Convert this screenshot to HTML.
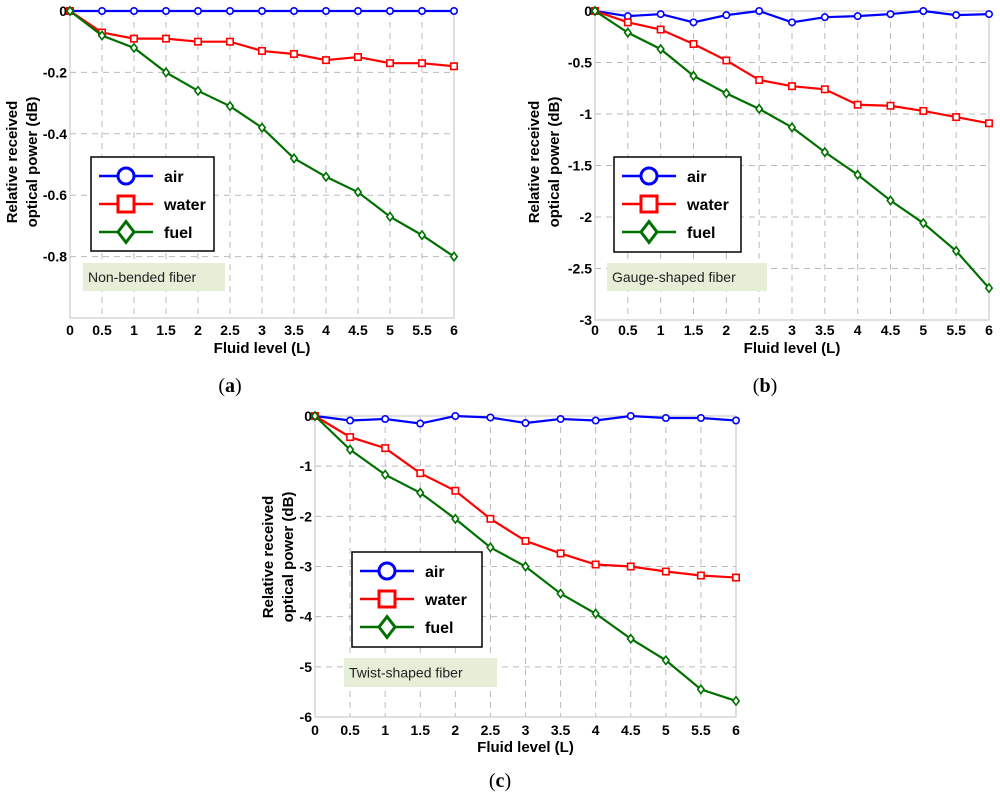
<!DOCTYPE html>
<html><head><meta charset="utf-8"><style>
html,body{margin:0;padding:0;background:#fff;width:1000px;height:801px;overflow:hidden}
svg{display:block}
text{font-family:"Liberation Sans",Arial,sans-serif}
text.cap{font-family:"Liberation Serif",serif}
</style></head><body>
<svg id="fig" width="1000" height="801" viewBox="0 0 1000 801"></svg>
<script>
const xLevels=[0,0.5,1,1.5,2,2.5,3,3.5,4,4.5,5,5.5,6];
const xTickLabels=["0","0.5","1","1.5","2","2.5","3","3.5","4","4.5","5","5.5","6"];
const airA=[0,0,0,0,0,0,0,0,0,0,0,0,0];
const waterA=[0,-0.07,-0.09,-0.09,-0.10,-0.10,-0.13,-0.14,-0.16,-0.15,-0.17,-0.17,-0.18];
const fuelA=[0,-0.08,-0.12,-0.20,-0.26,-0.31,-0.38,-0.48,-0.54,-0.59,-0.67,-0.73,-0.80];
const yTicksA=[0,-0.2,-0.4,-0.6,-0.8];
const yLabelsA=["0","-0.2","-0.4","-0.6","-0.8"];
const airB=[0,-0.05,-0.03,-0.11,-0.04,0,-0.11,-0.06,-0.05,-0.03,0,-0.04,-0.03];
const waterB=[0,-0.11,-0.18,-0.32,-0.48,-0.67,-0.73,-0.76,-0.91,-0.92,-0.97,-1.03,-1.09];
const fuelB=[0,-0.21,-0.37,-0.63,-0.80,-0.95,-1.13,-1.37,-1.59,-1.84,-2.06,-2.33,-2.69];
const yTicksB=[0,-0.5,-1,-1.5,-2,-2.5,-3];
const yLabelsB=["0","-0.5","-1","-1.5","-2","-2.5","-3"];
const airC=[0,-0.09,-0.06,-0.15,0,-0.03,-0.14,-0.06,-0.09,0,-0.04,-0.04,-0.09];
const waterC=[0,-0.42,-0.64,-1.14,-1.49,-2.05,-2.49,-2.74,-2.96,-3.0,-3.1,-3.18,-3.22];
const fuelC=[0,-0.67,-1.17,-1.53,-2.05,-2.62,-3.0,-3.54,-3.94,-4.44,-4.87,-5.45,-5.68];
const yTicksC=[0,-1,-2,-3,-4,-5,-6];
const yLabelsC=["0","-1","-2","-3","-4","-5","-6"];
const seriesNames=["air","water","fuel"];

const NS="http://www.w3.org/2000/svg";
const svg=document.getElementById('fig');
function mk(tag,attrs,parent){const e=document.createElementNS(NS,tag);for(const k in attrs)e.setAttribute(k,attrs[k]);(parent||svg).appendChild(e);return e;}
const colors={air:"#0000ff",water:"#ff0000",fuel:"#007000"};
function marker(g,kind,x,y,r){
  let m;
  if(kind==="air")m=mk('circle',{cx:x,cy:y,r:r,fill:"#fff",stroke:colors.air,"stroke-width":r>5?3:1.6},g);
  else if(kind==="water")m=mk('rect',{x:x-r,y:y-r,width:2*r,height:2*r,fill:"#fff",stroke:colors.water,"stroke-width":r>5?3:1.6},g);
  else m=mk('polygon',{points:`${x},${y-r*1.3} ${x+r},${y} ${x},${y+r*1.3} ${x-r},${y}`,fill:"#fff",stroke:colors.fuel,"stroke-width":r>5?3:1.6},g);
  return m;
}
function panel(id,P,yMin,yTicks,yLabels,data,leg,lab,labelText,titleX,titleY,xlabY,flY){
  const g=mk('g',{});
  
  
  const sx=v=>P.l+(v-0)/(6-0)*(P.r-P.l);
  const sy=v=>P.t+(0-v)/(0-yMin)*(P.b-P.t);
  xLevels.forEach((v,i)=>{if(i>0&&i<12){const gl=mk('line',{x1:sx(v),x2:sx(v),y1:P.t,y2:P.b,stroke:"#bbb","stroke-dasharray":"6,5","stroke-width":1},g);}});
  yTicks.forEach((v,i)=>{if(i>0&&v>yMin){const gl=mk('line',{x1:P.l,x2:P.r,y1:sy(v),y2:sy(v),stroke:"#bbb","stroke-dasharray":"6,5","stroke-width":1},g);}});
  const fr=mk('rect',{x:P.l,y:P.t,width:P.r-P.l,height:P.b-P.t,fill:"none",stroke:"#ccc","stroke-width":1.2},g);
  
  xLevels.forEach((v,i)=>{const t=mk('text',{x:sx(v),y:xlabY,"text-anchor":"middle","font-size":"14","font-weight":"bold"},g);t.textContent=xTickLabels[i];});
  yTicks.forEach((v,i)=>{const t=mk('text',{x:P.l-3,y:sy(v)+5,"text-anchor":"end","font-size":"14","font-weight":"bold"},g);t.textContent=yLabels[i];});
  const xt=mk('text',{x:(P.l+P.r)/2,y:flY,"text-anchor":"middle","font-size":"15","font-weight":"bold"},g);xt.textContent="Fluid level (L)";
  
  const yt=mk('text',{transform:`translate(${titleX},${titleY}) rotate(-90)`,"text-anchor":"middle","font-size":"15","font-weight":"bold"},g);
  
  const t1=mk('tspan',{x:0,y:0},yt);t1.textContent="Relative received";
  const t2=mk('tspan',{x:0,y:20},yt);t2.textContent="optical power (dB)";
  seriesNames.forEach((nm,si)=>{
    const vals=data[si];
    const pl=mk('polyline',{points:vals.map((v,i)=>sx(xLevels[i])+","+sy(v)).join(" "),fill:"none",stroke:colors[nm],"stroke-width":2.2},g);
    
    vals.forEach((v,i)=>{const m=marker(g,nm,sx(xLevels[i]),sy(v),3.2);});
  });
  const lb=mk('rect',{x:lab[0],y:lab[1],width:lab[2],height:lab[3],fill:"#e6eed8"},g);
  
  const lt=mk('text',{x:lab[0]+5,y:lab[1]+lab[3]/2+5,"font-size":"14","fill":"#222"},g);lt.textContent=labelText;
  
  const lg=mk('g',{},g);
  mk('rect',{x:leg[0],y:leg[1],width:leg[2],height:leg[3],fill:"#fff",stroke:"#000","stroke-width":1.5},lg);
  seriesNames.forEach((nm,si)=>{
    const yy=leg[1]+19+si*28;
    const e=mk('g',{},lg);
    mk('line',{x1:leg[0]+8,x2:leg[0]+62,y1:yy,y2:yy,stroke:colors[nm],"stroke-width":2.5},e);
    marker(e,nm,leg[0]+35,yy,8);
    const tx=mk('text',{x:leg[0]+73,y:yy+6,"font-size":"16","font-weight":"bold"},e);tx.textContent=nm;
  });
}
panel('a',{l:70,r:454,t:11,b:318},-1,yTicksA,yLabelsA,[airA,waterA,fuelA],[91,157,123,94],[83,263,142,28],"Non-bended fiber",17,162,335,353);
panel('b',{l:595,r:989,t:11,b:320},-3,yTicksB,yLabelsB,[airB,waterB,fuelB],[614,157,127,95],[607,263,160,28],"Gauge-shaped fiber",539,162,335,353);
panel('c',{l:315,r:736,t:416,b:717},-6,yTicksC,yLabelsC,[airC,waterC,fuelC],[352,552,130,95],[344,658,153,29],"Twist-shaped fiber",273,557,735,752);
[["(a)",230,392],["(b)",765,392],["(c)",500,787]].forEach(c=>{
  const t=mk('text',{x:c[1],y:c[2],"text-anchor":"middle","font-size":"20","class":"cap"});
  t.innerHTML='(<tspan font-weight="bold">'+c[0][1]+'</tspan>)';
  
});
</script>
</body></html>
